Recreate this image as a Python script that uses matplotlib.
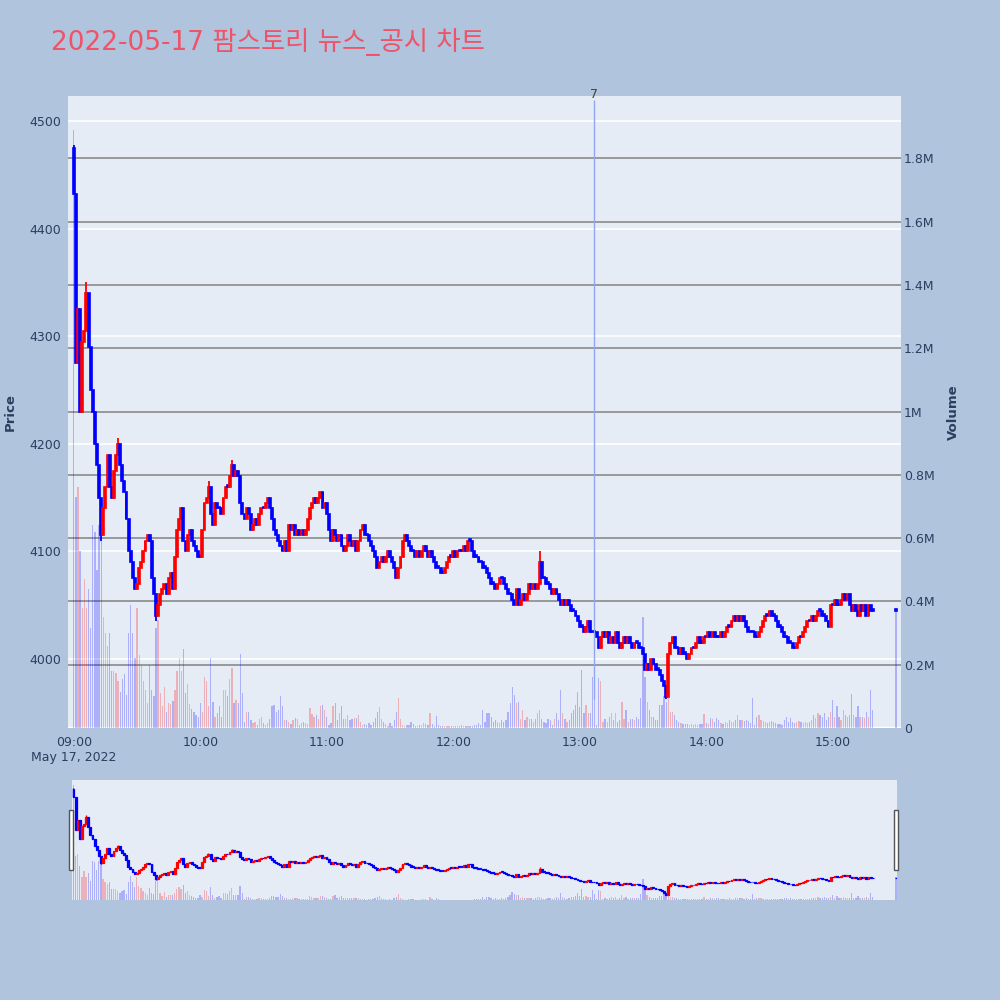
import matplotlib.pyplot as plt
from matplotlib.patches import Rectangle

# 1-minute candles from 09:00 (minute 0) to 15:19, plus the 15:30 close
minutes = list(range(380)) + [390]
first_open = 4475
close = [
    4432, 4275, 4325, 4230, 4295, 4305, 4340, 4290, 4250, 4230,
    4200, 4180, 4150, 4115, 4140, 4160, 4190, 4160, 4150, 4175,
    4190, 4200, 4180, 4165, 4155, 4130, 4100, 4090, 4075, 4065,
    4070, 4085, 4090, 4100, 4110, 4115, 4110, 4075, 4060, 4040,
    4050, 4060, 4065, 4070, 4060, 4075, 4080, 4065, 4095, 4120,
    4130, 4140, 4110, 4100, 4115, 4120, 4110, 4105, 4100, 4095,
    4095, 4120, 4145, 4150, 4160, 4135, 4125, 4145, 4140, 4140,
    4135, 4150, 4160, 4160, 4170, 4180, 4170, 4175, 4170, 4145,
    4135, 4130, 4140, 4135, 4120, 4125, 4130, 4125, 4135, 4140,
    4140, 4145, 4150, 4140, 4130, 4120, 4115, 4110, 4105, 4100,
    4110, 4100, 4125, 4120, 4125, 4115, 4120, 4115, 4120, 4115,
    4120, 4130, 4140, 4145, 4150, 4145, 4150, 4155, 4140, 4145,
    4135, 4120, 4110, 4120, 4115, 4110, 4115, 4105, 4100, 4105,
    4115, 4110, 4105, 4110, 4100, 4110, 4120, 4125, 4115, 4115,
    4110, 4105, 4100, 4095, 4085, 4090, 4095, 4090, 4095, 4100,
    4095, 4090, 4085, 4075, 4085, 4095, 4110, 4115, 4110, 4105,
    4100, 4100, 4095, 4100, 4095, 4100, 4105, 4100, 4095, 4100,
    4095, 4090, 4085, 4085, 4080, 4080, 4085, 4090, 4095, 4095,
    4100, 4095, 4100, 4100, 4100, 4105, 4100, 4110, 4110, 4100,
    4095, 4095, 4090, 4090, 4085, 4085, 4080, 4075, 4070, 4070,
    4065, 4070, 4075, 4075, 4070, 4065, 4060, 4060, 4055, 4050,
    4065, 4050, 4055, 4060, 4055, 4060, 4070, 4065, 4070, 4065,
    4070, 4090, 4075, 4075, 4070, 4070, 4065, 4060, 4065, 4060,
    4055, 4050, 4055, 4050, 4055, 4050, 4045, 4045, 4040, 4035,
    4030, 4030, 4025, 4030, 4035, 4025, 4025, 4025, 4020, 4010,
    4020, 4025, 4020, 4025, 4015, 4020, 4015, 4025, 4015, 4010,
    4015, 4020, 4015, 4020, 4015, 4010, 4015, 4015, 4010, 4010,
    4005, 3990, 3995, 3990, 4000, 3995, 3990, 3990, 3985, 3980,
    3975, 3965, 4005, 4015, 4020, 4010, 4010, 4005, 4010, 4005,
    4005, 4000, 4005, 4010, 4010, 4015, 4020, 4015, 4015, 4020,
    4020, 4025, 4020, 4025, 4020, 4020, 4020, 4025, 4020, 4025,
    4030, 4030, 4035, 4040, 4035, 4040, 4035, 4040, 4035, 4030,
    4025, 4025, 4025, 4020, 4020, 4025, 4030, 4035, 4040, 4040,
    4045, 4040, 4040, 4035, 4030, 4030, 4025, 4020, 4020, 4015,
    4015, 4010, 4010, 4015, 4020, 4020, 4025, 4030, 4035, 4035,
    4040, 4035, 4040, 4045, 4045, 4040, 4040, 4035, 4030, 4050,
    4050, 4055, 4050, 4050, 4055, 4060, 4055, 4060, 4050, 4045,
    4050, 4045, 4040, 4050, 4045, 4050, 4040, 4050, 4045, 4045,
    4045,
]
# volume in thousands of shares
volume_k = [
    1890, 730, 760, 560, 380, 470, 380, 440, 315, 640,
    620, 500, 640, 590, 350, 300, 260, 300, 180, 180,
    175, 150, 115, 155, 170, 105, 300, 390, 300, 220,
    380, 230, 200, 150, 120, 80, 200, 120, 100, 315,
    340, 110, 70, 130, 50, 80, 75, 85, 120, 180,
    220, 180, 250, 110, 140, 75, 60, 50, 40, 35,
    78, 50, 160, 150, 68, 220, 83, 36, 47, 68,
    36, 120, 120, 100, 155, 190, 78, 90, 78, 235,
    110, 20, 50, 50, 26, 15, 20, 10, 30, 36,
    15, 10, 15, 30, 68, 73, 50, 57, 100, 68,
    26, 26, 20, 13, 26, 32, 30, 10, 15, 20,
    15, 13, 62, 44, 36, 40, 30, 68, 73, 57,
    36, 10, 15, 68, 78, 26, 47, 70, 30, 30,
    40, 25, 30, 33, 32, 40, 20, 10, 12, 8,
    15, 10, 20, 33, 50, 67, 30, 20, 12, 5,
    15, 5, 25, 50, 94, 30, 10, 5, 8, 10,
    18, 14, 5, 5, 8, 10, 15, 12, 8, 47,
    12, 5, 38, 10, 5, 5, 5, 5, 5, 5,
    5, 5, 5, 6, 8, 5, 5, 5, 5, 5,
    10, 10, 15, 10, 57, 20, 46, 46, 36, 20,
    25, 20, 15, 25, 20, 25, 52, 78, 130, 104,
    78, 83, 30, 57, 25, 36, 30, 30, 20, 30,
    46, 57, 30, 20, 15, 30, 25, 10, 30, 46,
    25, 120, 46, 30, 20, 25, 46, 57, 73, 115,
    67, 183, 46, 73, 46, 46, 160, 100, 10, 157,
    150, 20, 30, 20, 36, 46, 25, 46, 20, 25,
    83, 30, 57, 20, 30, 30, 25, 36, 30, 94,
    350, 160, 83, 57, 36, 36, 25, 25, 73, 73,
    100, 83, 94, 52, 52, 41, 25, 20, 15, 13,
    13, 13, 10, 13, 10, 13, 10, 13, 13, 44,
    15, 13, 31, 28, 20, 31, 25, 15, 13, 20,
    15, 25, 20, 20, 25, 41, 25, 25, 22, 25,
    22, 15, 94, 10, 36, 41, 25, 22, 20, 15,
    20, 22, 20, 15, 13, 13, 10, 25, 36, 20,
    31, 20, 15, 20, 22, 20, 15, 20, 15, 20,
    25, 41, 31, 47, 41, 36, 47, 25, 36, 52,
    90, 36, 68, 36, 25, 57, 41, 36, 41, 109,
    41, 36, 68, 36, 36, 31, 52, 36, 120, 57,
    370,
]
# wicks that reach beyond the bodies
wick_high = {0: 4478, 6: 4350, 21: 4205, 64: 4165, 75: 4185, 221: 4100}
wick_low = {13: 4110, 39: 4035, 281: 3963}

news_minute = 247  # 13:07
news_label = "7"
title = "2022-05-17 팜스토리 뉴스_공시 차트"
hour_labels = ["09:00\nMay 17, 2022", "10:00", "11:00", "12:00", "13:00", "14:00", "15:00"]

UP, DOWN = "#ff0000", "#0000ff"
BG, PAPER, TXT = "#e5ecf6", "#b0c4de", "#2a3f5f"
P_LIM = (3935.9, 4523.2)
V_LIM = (0, 1.997e6)

opens = [first_open] + close[:-1]
highs = [max(o, c, wick_high.get(i, 0)) for i, (o, c) in enumerate(zip(opens, close))]
lows = [min(o, c, wick_low.get(i, 99999)) for i, (o, c) in enumerate(zip(opens, close))]
colors = [UP if c > o else DOWN for o, c in zip(opens, close)]
volume = [v * 1000 for v in volume_k]


def draw_candles(ax, body_lw, wick_lw):
    bottoms = [min(o, c) for o, c in zip(opens, close)]
    heights = [max(abs(c - o), 1.5) for o, c in zip(opens, close)]
    ax.vlines(minutes, lows, highs, colors=colors, lw=wick_lw, zorder=3)
    ax.bar(minutes, heights, bottom=bottoms, width=0.9, color=colors,
           edgecolor=colors, linewidth=body_lw, zorder=4)


def draw_volume(ax):
    ax.bar(minutes, volume, width=0.6, color=colors, alpha=0.25, linewidth=0, zorder=2)


def vol_label(v, _pos=None):
    if v == 0:
        return "0"
    return f"{v / 1e6:g}M"


fig = plt.figure(figsize=(10, 10), dpi=100, facecolor=PAPER)

# --- main chart ---
ax_vol = fig.add_axes([0.068, 0.272, 0.833, 0.632], facecolor=BG)
ax_px = ax_vol.twinx()
ax_px.patch.set_visible(False)

ax_vol.set_xlim(-2.75, 392.4)
ax_vol.set_ylim(*V_LIM)
ax_px.set_ylim(*P_LIM)

# price grid (white) and volume grid (gray) both below the traces
for p in range(4000, 4501, 100):
    v = (p - P_LIM[0]) / (P_LIM[1] - P_LIM[0]) * V_LIM[1]
    ax_vol.axhline(v, color="white", lw=1.2, zorder=0.5)
vol_ticks = [i * 0.2e6 for i in range(10)]
for v in vol_ticks[1:]:
    ax_vol.axhline(v, color="#8a8a8a", lw=1.2, zorder=0.6)
ax_vol.axhline(0, color="white", lw=2.5, zorder=0.7)

draw_volume(ax_vol)
draw_candles(ax_px, 1.2, 1.3)

ax_px.vlines(news_minute, min(lows), 4519.5, color="#8fa6f2", lw=1, zorder=5)
ax_px.text(news_minute, P_LIM[1] + 1, news_label, ha="center", va="center",
           fontsize=9, color="#444444", clip_on=False)

ax_vol.set_xticks(range(0, 361, 60))
ax_vol.set_xticklabels(hour_labels)
ax_vol.set_yticks(vol_ticks)
ax_vol.yaxis.set_major_formatter(vol_label)
ax_vol.yaxis.tick_right()
ax_px.yaxis.tick_left()
ax_px.set_yticks(range(4000, 4501, 100))

for a in (ax_vol, ax_px):
    for s in a.spines.values():
        s.set_visible(False)
    a.tick_params(length=0, labelsize=9, labelcolor=TXT)
ax_vol.tick_params(axis="x", pad=6)
ax_vol.tick_params(axis="y", pad=2)
ax_px.tick_params(axis="y", pad=5)

fig.text(0.010, 0.588, "Price", rotation=90, ha="center", va="center",
         fontsize=9.5, fontweight="bold", color=TXT)
fig.text(0.953, 0.588, "Volume", rotation=90, ha="center", va="center",
         fontsize=9.5, fontweight="bold", color=TXT)
fig.text(0.051, 0.950, title, fontsize=19, color="#ef5368",
         family=["DejaVu Sans", "Noto Sans CJK KR"], va="baseline")

# --- range slider ---
ax_s = fig.add_axes([0.072, 0.100, 0.825, 0.120], facecolor=BG)
ax_s2 = ax_s.twinx()
ax_s2.patch.set_visible(False)
ax_s.set_xlim(-0.7, 390.5)
ax_s.set_ylim(0, 1.97e6)
ax_s2.set_ylim(3939, 4516)
draw_volume(ax_s)
draw_candles(ax_s2, 0.9, 1.0)
for a in (ax_s, ax_s2):
    a.set_xticks([])
    a.set_yticks([])
    for s in a.spines.values():
        s.set_visible(False)

for x0 in (0.069, 0.894):
    fig.patches.append(Rectangle((x0, 0.130), 0.004, 0.060, transform=fig.transFigure,
                                 facecolor="white", edgecolor="#555555", lw=1))

fig.savefig("out.png", dpi=100, facecolor=PAPER)
